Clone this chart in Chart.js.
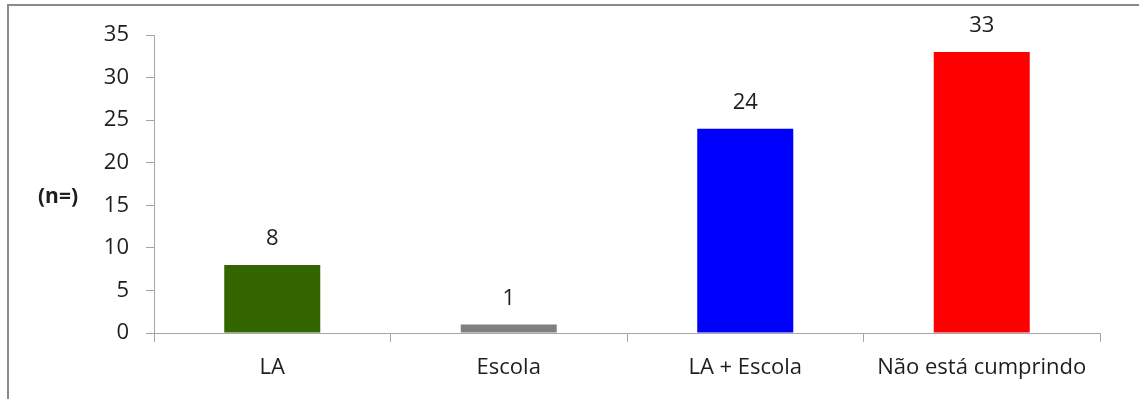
<!DOCTYPE html>
<html>
<head>
<meta charset="utf-8">
<script src="https://cdn.jsdelivr.net/npm/chart.js@4.4.0/dist/chart.umd.min.js"></script>
<style>
  html, body { margin: 0; padding: 0; background: #fff; overflow: hidden; }
  #wrap { position: relative; width: 1139px; height: 399px; }
  #frame { position: absolute; left: 7px; top: 4px; width: 1200px; height: 500px;
           border: 2px solid #8a8a8a; box-sizing: border-box; }
  #mycanvas { position: absolute; left: 0; top: 0; }
</style>
</head>
<body>
<div id="wrap">
  <div id="frame"></div>
  <canvas id="mycanvas" width="1139" height="399"></canvas>
</div>
<script>
// categories and counts
var categorias = ['LA', 'Escola', 'LA + Escola', 'Não está cumprindo'];
var valores = [8, 1, 24, 33];
var cores = ['#336600', '#808080', '#0000ff', '#ff0000'];
var ticksY = [0, 5, 10, 15, 20, 25, 30, 35];
var tituloY = '(n=)';

var fonte = '"Open Sans", sans-serif';
var corTexto = '#1e1e1e';
var corEixo = '#a6a6a6';

// value above each bar + horizontal y axis title
var rotulos = {
  id: 'rotulos',
  afterDatasetsDraw: function(chart) {
    var ctx = chart.ctx;
    var meta = chart.getDatasetMeta(0);
    ctx.save();
    ctx.fillStyle = corTexto;
    ctx.font = '22px ' + fonte;
    ctx.textAlign = 'center';
    ctx.textBaseline = 'middle';
    meta.data.forEach(function(bar, i) {
      ctx.fillText(String(valores[i]), bar.x, bar.y - 26);
    });
    var area = chart.chartArea;
    ctx.font = 'bold 21px ' + fonte;
    ctx.fillText(tituloY, 58, (area.top + area.bottom) / 2 + 13);
    ctx.restore();
  }
};

var ctx = document.getElementById('mycanvas');

var mycanvas = new Chart(ctx, {
  type: 'bar',
  data: {
    labels: categorias,
    datasets: [{
      data: valores,
      backgroundColor: cores,
      borderWidth: 0,
      barPercentage: 0.406,
      categoryPercentage: 1
    }]
  },
  options: {
    responsive: false,
    animation: false,
    layout: { padding: { top: 35, right: 39, bottom: 0, left: 0 } },
    plugins: {
      legend: { display: false },
      tooltip: { enabled: false }
    },
    scales: {
      x: {
        afterFit: function(scale) { scale.height = 66; },
        border: { color: corEixo, width: 1 },
        grid: { drawOnChartArea: false, color: corEixo, tickLength: 9, offset: true },
        ticks: { color: corTexto, font: { family: fonte, size: 22 }, padding: 13, maxRotation: 0 }
      },
      y: {
        min: 0,
        max: 35,
        afterFit: function(scale) { scale.width = 154; },
        afterBuildTicks: function(scale) {
          scale.ticks = ticksY.map(function(v) { return { value: v }; });
        },
        border: { color: corEixo, width: 1 },
        grid: { drawOnChartArea: false, color: corEixo, tickLength: 8 },
        ticks: { color: corTexto, font: { family: fonte, size: 22 }, padding: 17 }
      }
    }
  },
  plugins: [rotulos]
});
</script>
</body>
</html>
